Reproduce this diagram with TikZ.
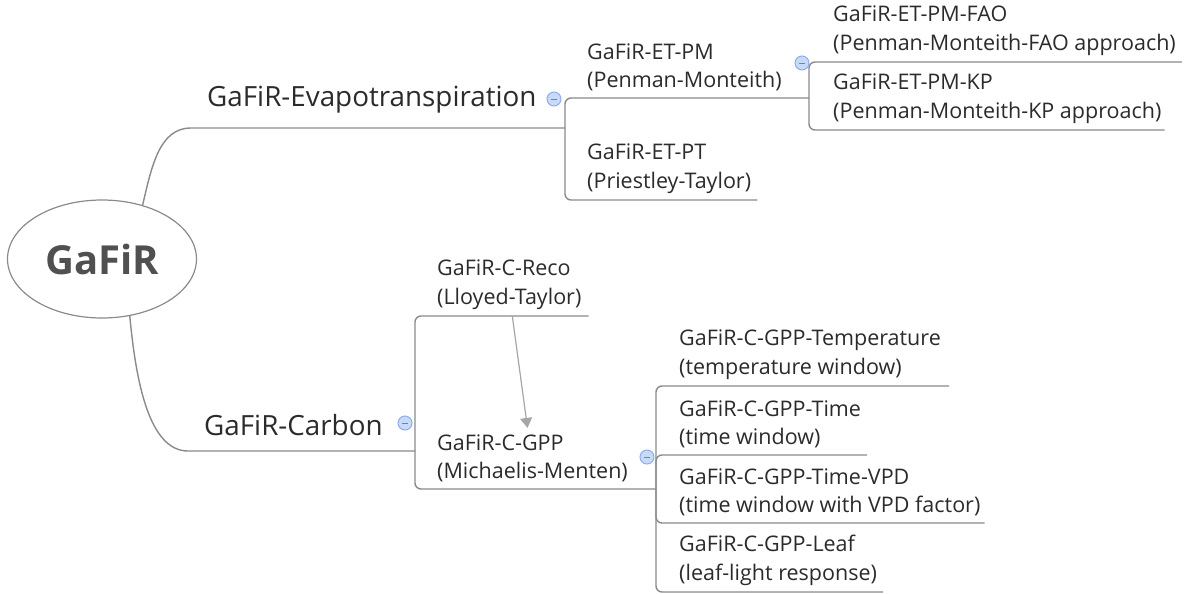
\documentclass[tikz,border=0pt]{standalone}
\usepackage{fontspec}
\setmainfont{Open Sans}
\usetikzlibrary{shapes.geometric,arrows.meta}
\definecolor{linegray}{HTML}{8A8A8A}
\definecolor{arrowgray}{HTML}{A6A6A6}
\definecolor{rootgray}{HTML}{505050}
\definecolor{textdark}{HTML}{2B2B2B}
\definecolor{knobfill}{HTML}{C9D9F8}
\definecolor{knobline}{HTML}{8EAEEA}
\tikzset{
  branch/.style={draw=linegray, line width=1.4pt, rounded corners=6pt},
  topic/.style={anchor=south west, inner xsep=10pt, inner ysep=15pt, text=textdark,
    font=\fontsize{27.8}{32}\selectfont},
  leaf/.style={anchor=south west, align=left, inner xsep=0pt, inner ysep=6.5pt, text=textdark,
    font=\fontsize{21.5}{28.5}\selectfont},
  knob/.style={circle, draw=knobline, fill=knobfill, line width=1pt, minimum size=14pt, inner sep=0pt,
    path picture={\draw[knobline!75!black, line width=0.9pt]
      ([xshift=-3pt]path picture bounding box.center) -- ([xshift=3pt]path picture bounding box.center);}}
}
\begin{document}
\begin{tikzpicture}[x=1pt,y=-1pt]
\useasboundingbox (0,0) rectangle (1191,594);
% central topic
\node[ellipse, draw=linegray, line width=1.2pt, minimum width=189pt, minimum height=118pt, inner sep=0pt,
  text=rootgray, font=\fontsize{40}{48}\selectfont\bfseries] (root) at (102,259) {GaFiR};
% main branches
\node[topic] (evap) at (197,128) {GaFiR-Evapotranspiration};
\node[topic] (carbon) at (194,451) {GaFiR-Carbon};
\coordinate (etj) at (565,128);
\coordinate (cj) at (415,451);
\draw[branch] (root.53) .. controls +(9,-38) and +(-38,0) .. (evap.south west) -- (etj);
\draw[branch] (root.-64) .. controls +(6,65) and +(-45,0) .. (carbon.south west) -- (cj);
% evapotranspiration
\node[leaf] (pm) at (587,98) {GaFiR-ET-PM\\(Penman-Monteith)};
\node[leaf] (pt) at (587,200) {GaFiR-ET-PT\\(Priestley-Taylor)};
\coordinate (pmj) at (809,98);
\node[leaf] (fao) at (833,62) {GaFiR-ET-PM-FAO\\(Penman-Monteith-FAO approach)};
\node[leaf] (kp) at (833,130) {GaFiR-ET-PM-KP\\(Penman-Monteith-KP approach)};
\draw[branch] (etj) |- (pm.south west) -- (pmj);
\draw[branch] (etj) |- (pt.south west) -- ([xshift=6pt]pt.south east);
\draw[branch] (pmj) |- (fao.south west) -- ([xshift=6pt]fao.south east);
\draw[branch] (pmj) |- (kp.south west) -- ([xshift=3pt]kp.south east);
% carbon
\node[leaf] (reco) at (437,316) {GaFiR-C-Reco\\(Lloyed-Taylor)};
\node[leaf] (gpp) at (437,489) {GaFiR-C-GPP\\(Michaelis-Menten)};
\coordinate (gppj) at (656,489);
\draw[branch] (cj) |- (reco.south west) -- ([xshift=7pt]reco.south east);
\draw[branch] (cj) |- (gpp.south west) -- (gppj);
\draw[arrowgray, line width=1.2pt, -{Triangle[width=12pt,length=10pt]}] ([xshift=3pt]reco.south) -- ([xshift=-5pt]gpp.north);
% gpp variants
\node[leaf] (temp) at (679,386) {GaFiR-C-GPP-Temperature\\(temperature window)};
\node[leaf] (time) at (679,455) {GaFiR-C-GPP-Time\\(time window)};
\node[leaf] (vpd) at (679,523) {GaFiR-C-GPP-Time-VPD\\(time window with VPD factor)};
\node[leaf] (leaf) at (679,592) {GaFiR-C-GPP-Leaf\\(leaf-light response)};
\foreach \n/\ext in {temp/8,time/6,vpd/4,leaf/6}
  \draw[branch] (gppj) |- (\n.south west) -- ([xshift=\ext pt]\n.south east);
% collapse knobs
\node[knob] (evknob) at (554,99) {};
\node[knob] (cknob) at (405,423) {};
\node[knob] (pmknob) at (802,63) {};
\node[knob] (gppknob) at (647,457) {};
\end{tikzpicture}
\end{document}
